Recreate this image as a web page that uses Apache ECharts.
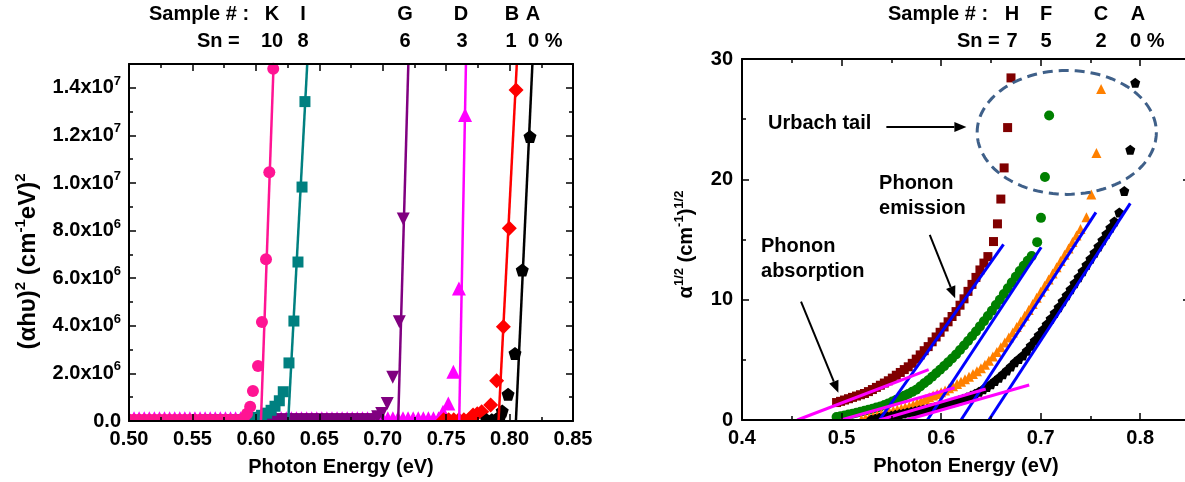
<!DOCTYPE html>
<html><head><meta charset="utf-8">
<script src="https://cdn.jsdelivr.net/npm/echarts@6.0.0/dist/echarts.min.js"></script>
<style>html,body{margin:0;padding:0;background:#fff}#c{width:1185px;height:482px}</style>
</head><body><div id="c"></div>
<script>
// ---------------- Left panel: (alpha h nu)^2 vs photon energy ----------------
const leftSamples = ['K','I','G','D','B','A'];
const leftSn = ['10','8','6','3','1'];
// K (Sn 10%)
const kE = [0.500,0.504,0.508,0.512,0.516,0.520,0.524,0.528,0.532,0.536,0.540,0.544,0.548,0.552,0.556,0.560,0.564,0.568,0.572,0.576,0.580,0.584,0.588,0.5905,0.5930,0.5955,0.5977,0.6017,0.6048,0.6080,0.6106,0.6137];
const kY = [5e4,5e4,5e4,5e4,5e4,5e4,5e4,5e4,5e4,5e4,5e4,5e4,5e4,5e4,5e4,5e4,5e4,5e4,5e4,5e4,5e4,5e4,5e4,1.2e5,3.0e5,6.0e5,1.26e6,2.31e6,4.16e6,6.80e6,10.45e6,14.80e6];
// I (Sn 8%)
const iE = [0.560,0.564,0.568,0.572,0.576,0.580,0.584,0.588,0.592,0.596,0.6007,0.6045,0.6085,0.6120,0.6151,0.6185,0.6216,0.6261,0.6300,0.6332,0.6364,0.6387];
const iY = [5e4,5e4,5e4,5e4,5e4,5e4,5e4,5e4,5e4,5e4,1.5e5,2.4e5,3.3e5,4.5e5,6.2e5,8.5e5,1.23e6,2.44e6,4.20e6,6.68e6,9.83e6,13.42e6];
// G (Sn 6%)
const gE = [0.600,0.604,0.608,0.612,0.616,0.620,0.624,0.628,0.632,0.636,0.640,0.644,0.648,0.652,0.656,0.660,0.664,0.668,0.672,0.676,0.680,0.684,0.688,0.692,0.6960,0.6992,0.7036,0.7079,0.7131,0.7162];
const gY = [5e4,5e4,5e4,5e4,5e4,5e4,5e4,5e4,5e4,5e4,5e4,5e4,5e4,5e4,5e4,5e4,5e4,5e4,5e4,5e4,5e4,5e4,5e4,5e4,1.8e5,3.2e5,7.4e5,1.84e6,4.17e6,8.49e6];
// D (Sn 3%)
const dE = [0.500,0.504,0.508,0.512,0.516,0.520,0.524,0.528,0.532,0.536,0.540,0.544,0.548,0.552,0.556,0.560,0.564,0.568,0.572,0.576,0.580,0.584,0.588,0.592,0.596,0.600,0.604,0.608,0.612,0.616,0.620,0.624,0.628,0.632,0.636,0.640,0.644,0.648,0.652,0.656,0.660,0.664,0.668,0.672,0.676,0.680,0.684,0.688,0.692,0.696,0.700,0.704,0.708,0.712,0.716,0.720,0.724,0.728,0.732,0.736,0.740,0.744,0.7475,0.7517,0.7557,0.7601,0.7649];
const dY = [1.2e5,1.2e5,1.2e5,1.2e5,1.2e5,1.2e5,1.2e5,1.2e5,1.2e5,1.2e5,1.2e5,1.2e5,1.2e5,1.2e5,1.2e5,1.2e5,1.2e5,1.2e5,1.2e5,1.2e5,1.2e5,1.2e5,1.2e5,1.2e5,1.2e5,1.2e5,1.2e5,1.2e5,1.2e5,1.2e5,1.2e5,1.2e5,1.2e5,1.2e5,1.2e5,1.2e5,1.2e5,1.2e5,1.2e5,1.2e5,1.2e5,1.2e5,1.2e5,1.2e5,1.2e5,1.2e5,1.2e5,1.2e5,1.2e5,1.2e5,1.2e5,1.2e5,1.2e5,1.2e5,1.2e5,1.2e5,1.2e5,1.2e5,1.2e5,1.2e5,1.2e5,1.2e5,3.9e5,7.4e5,2.07e6,5.57e6,12.86e6];
// B (Sn 1%)
const bE = [0.748,0.752,0.756,0.760,0.764,0.768,0.7712,0.7745,0.7780,0.7851,0.7898,0.7951,0.7998,0.8051];
const bY = [5e4,5e4,5e4,5e4,5e4,5e4,2.5e5,3.0e5,3.9e5,6.7e5,1.69e6,3.96e6,8.10e6,13.91e6];
// A (Sn 0%)
const aE = [0.782,0.786,0.789,0.7925,0.7942,0.7988,0.8043,0.8100,0.8161];
const aY = [5e4,5e4,5e4,2.0e5,4.2e5,1.12e6,2.84e6,6.34e6,11.95e6];
// linear fits (energy at y = 0 and at y = 1.5e7)
const fitYLeft = [0, 1.5e7];
const kFitE = [0.6040, 0.6140];
const iFitE = [0.6255, 0.6405];
const gFitE = [0.7122, 0.7202];
const dFitE = [0.7603, 0.7656];
const bFitE = [0.7913, 0.8057];
const aFitE = [0.8050, 0.8180];

// ---------------- Right panel: alpha^(1/2) vs photon energy ----------------
const rightSamples = ['H','F','C','A'];
const rightSn = ['7','5','2'];
const hE = [0.495,0.499,0.503,0.507,0.511,0.515,0.519,0.523,0.527,0.531,0.535,0.539,0.543,0.547,0.551,0.555,0.559,0.563,0.567,0.571,0.575,0.579,0.583,0.587,0.591,0.595,0.599,0.603,0.607,0.611,0.615,0.619,0.623,0.627,0.631,0.635,0.639,0.643,0.647,0.6526,0.6566,0.6600,0.6633,0.6668,0.6702];
const hV = [1.45,1.55,1.66,1.77,1.88,1.99,2.10,2.20,2.36,2.53,2.71,2.89,3.07,3.26,3.48,3.72,3.95,4.19,4.42,4.71,5.06,5.41,5.76,6.10,6.50,6.90,7.29,7.73,8.16,8.60,9.01,9.54,10.07,10.69,11.27,11.85,12.47,13.04,13.58,14.83,16.30,18.36,20.95,24.30,28.43];
const fE = [0.495,0.499,0.503,0.507,0.511,0.515,0.519,0.523,0.527,0.531,0.535,0.539,0.543,0.547,0.551,0.555,0.559,0.563,0.567,0.571,0.575,0.579,0.583,0.587,0.591,0.595,0.599,0.603,0.607,0.611,0.615,0.619,0.623,0.627,0.631,0.635,0.639,0.643,0.647,0.651,0.655,0.659,0.663,0.667,0.671,0.675,0.679,0.683,0.687,0.691,0.6965,0.7003,0.7043,0.7085];
const fV = [0.25,0.31,0.38,0.45,0.52,0.60,0.68,0.77,0.85,0.94,1.03,1.12,1.24,1.38,1.53,1.69,1.85,2.01,2.17,2.34,2.52,2.78,3.05,3.31,3.60,3.88,4.18,4.48,4.79,5.11,5.45,5.81,6.19,6.57,6.96,7.36,7.78,8.20,8.64,9.08,9.55,10.00,10.47,10.94,11.42,11.90,12.38,12.82,13.24,13.62,14.78,16.80,20.19,25.30];
const cE = [0.520,0.524,0.528,0.532,0.536,0.540,0.544,0.548,0.552,0.556,0.560,0.564,0.568,0.572,0.576,0.580,0.584,0.588,0.592,0.596,0.600,0.604,0.608,0.612,0.616,0.620,0.624,0.628,0.632,0.636,0.640,0.644,0.648,0.652,0.656,0.660,0.664,0.668,0.672,0.676,0.680,0.684,0.688,0.692,0.696,0.700,0.704,0.708,0.712,0.716,0.720,0.724,0.728,0.732,0.736,0.740,0.7460,0.7509,0.7560,0.7607];
const cV = [0.05,0.14,0.23,0.32,0.41,0.50,0.60,0.69,0.78,0.87,0.96,1.05,1.14,1.27,1.42,1.58,1.75,1.90,2.03,2.16,2.30,2.46,2.63,2.81,2.99,3.18,3.39,3.60,3.82,4.05,4.30,4.60,4.93,5.28,5.65,6.05,6.45,6.86,7.28,7.72,8.18,8.66,9.15,9.65,10.15,10.65,11.16,11.67,12.18,12.70,13.22,13.74,14.26,14.80,15.34,15.88,16.85,18.75,22.18,27.50];
const arE = [0.530,0.534,0.538,0.542,0.546,0.550,0.554,0.558,0.562,0.566,0.570,0.574,0.578,0.582,0.586,0.590,0.594,0.598,0.602,0.606,0.610,0.614,0.618,0.622,0.626,0.630,0.634,0.638,0.642,0.646,0.650,0.654,0.658,0.662,0.666,0.670,0.674,0.678,0.682,0.686,0.690,0.694,0.698,0.702,0.706,0.710,0.714,0.718,0.722,0.726,0.730,0.734,0.738,0.742,0.746,0.750,0.754,0.758,0.762,0.766,0.770,0.774,0.7790,0.7840,0.7900,0.7950];
const arV = [0.05,0.11,0.18,0.24,0.30,0.36,0.43,0.49,0.55,0.62,0.68,0.74,0.81,0.87,0.93,1.00,1.08,1.16,1.25,1.34,1.43,1.53,1.64,1.76,1.89,2.03,2.18,2.35,2.55,2.75,2.98,3.24,3.51,3.80,4.11,4.44,4.79,5.07,5.35,5.75,6.17,6.60,7.04,7.49,7.95,8.42,8.90,9.38,9.87,10.36,10.86,11.36,11.86,12.37,12.88,13.39,13.90,14.42,14.94,15.46,15.98,16.50,17.25,19.03,22.46,28.03];
// phonon emission fits (blue) and phonon absorption fits (magenta): [E0,E1],[V0,V1]
const hEmE = [0.538, 0.6627], hEmV = [0, 14.6];
const fEmE = [0.5862, 0.7005], fEmV = [0, 14.36];
const cEmE = [0.620, 0.7555], cEmV = [0, 17.25];
const aEmE = [0.648, 0.790], aEmV = [0, 18.0];
const hAbE = [0.4555, 0.5875], hAbV = [0, 4.18];
const fAbE = [0.4995, 0.6135], fAbV = [0, 2.68];
const cAbE = [0.538, 0.6448], cAbV = [0, 2.58];
const aAbE = [0.565, 0.6885], aAbV = [0, 2.91];

// ---------------- helpers ----------------
const FONT = '"Liberation Sans", Arial, Helvetica, sans-serif';
const zip = (xs, ys) => xs.map((x, i) => [x, ys[i]]);
const PENT = 'path://M0,-1L0.951,-0.309L0.588,0.809L-0.588,0.809L-0.951,-0.309Z';
const SUP = {fontFamily: FONT, fontWeight: 'bold', fontSize: 13, color: '#000', verticalAlign: 'top', lineHeight: 13};
const SUPL = {fontFamily: FONT, fontWeight: 'bold', fontSize: 15, color: '#000', verticalAlign: 'top', lineHeight: 15};
const BIG = {fontFamily: FONT, fontWeight: 'bold', fontSize: 20, color: '#000', lineHeight: 26};
const LBL = {show: true, fontFamily: FONT, fontWeight: 'bold', fontSize: 20, color: '#000'};

function axis(o) {
  return Object.assign({
    type: 'value', z: 10, nameMoveOverlap: false,
    axisLine: {show: true, onZero: false, lineStyle: {color: '#000', width: 2}},
    axisTick: {show: true, inside: true, length: 7, lineStyle: {color: '#000', width: 1.5}},
    minorTick: {show: true, splitNumber: 2, length: 4, lineStyle: {color: '#000', width: 1.5}},
    splitLine: {show: false}, minorSplitLine: {show: false},
    axisLabel: {show: false}
  }, o);
}
function sci(v) {
  if (v === 0) return '{b|0.0}';
  const e = Math.floor(Math.log10(v) + 1e-9);
  const m = v / Math.pow(10, e);
  return '{b|' + m.toFixed(1) + 'x10}{s|' + e + '}';
}
function sc(xi, data, symbol, size, color, extra) {
  return Object.assign({type: 'scatter', xAxisIndex: xi, yAxisIndex: xi, data, symbol, symbolSize: size,
    itemStyle: {color, opacity: 1}, silent: true, animation: false, z: 2}, extra || {});
}
function ln(xi, xs, ys, color, width) {
  return {type: 'line', xAxisIndex: xi, yAxisIndex: xi, data: zip(xs, ys), symbol: 'none', showSymbol: false,
    lineStyle: {color, width}, silent: true, animation: false, z: 3};
}

const option = {
  animation: false,
  backgroundColor: '#fff',
  grid: [
    {left: 129, top: 64, width: 444, height: 357, containLabel: false, outerBoundsMode: 'none'},
    {left: 742, top: 59, width: 448, height: 361, containLabel: false, outerBoundsMode: 'none'}
  ],
  xAxis: [
    axis({gridIndex: 0, position: 'bottom', min: 0.5, max: 0.85, interval: 0.05,
      axisLabel: Object.assign({}, LBL, {margin: 8, formatter: v => v.toFixed(2)}),
      name: 'Photon Energy (eV)', nameLocation: 'middle', nameGap: 36,
      nameTextStyle: {fontFamily: FONT, fontWeight: 'bold', fontSize: 20, color: '#000', padding: [0, 20, 0, 0]}}),
    axis({gridIndex: 0, position: 'top', min: 0.5, max: 0.85, interval: 0.05}),
    axis({gridIndex: 1, position: 'bottom', min: 0.4, max: 0.85, interval: 0.1,
      axisLabel: Object.assign({}, LBL, {margin: 8, showMaxLabel: false, formatter: v => v.toFixed(1)}),
      name: 'Photon Energy (eV)', nameLocation: 'middle', nameGap: 36,
      nameTextStyle: {fontFamily: FONT, fontWeight: 'bold', fontSize: 20, color: '#000'}}),
    axis({gridIndex: 1, position: 'top', min: 0.4, max: 0.85, interval: 0.1})
  ],
  yAxis: [
    axis({gridIndex: 0, position: 'left', min: 0, max: 1.5e7, interval: 2e6,
      axisLabel: Object.assign({}, LBL, {margin: 8, showMaxLabel: false, formatter: sci, rich: {b: BIG, s: SUP}}),
      name: '(αhυ){s|2} (cm{s|-1}eV){s|2}', nameLocation: 'middle', nameGap: 86,
      nameTextStyle: {fontFamily: FONT, fontWeight: 'bold', fontSize: 24, color: '#000', lineHeight: 30,
        padding: [0, 38, 0, 0], rich: {s: SUPL}}}),
    axis({gridIndex: 0, position: 'right', min: 0, max: 1.5e7, interval: 2e6}),
    axis({gridIndex: 1, position: 'left', min: 0, max: 30, interval: 10,
      axisLabel: Object.assign({}, LBL, {margin: 9}),
      name: 'α{s|1/2} (cm{s|-1}){s|1/2}', nameLocation: 'middle', nameGap: 43,
      nameTextStyle: {fontFamily: FONT, fontWeight: 'bold', fontSize: 20, color: '#000', lineHeight: 26,
        padding: [0, 10, 0, 0], rich: {s: SUP}}}),
    axis({gridIndex: 1, position: 'right', min: 0, max: 30, interval: 10})
  ],
  series: [
    // left markers (drawing order: D, G, I, K, B, A)
    sc(0, zip(dE, dY), 'triangle', 14, '#FF00FF'),
    sc(0, zip(gE, gY), 'triangle', 13, '#800080', {symbolRotate: 180}),
    sc(0, zip(iE, iY), 'rect', 11, '#008080'),
    sc(0, zip(kE, kY), 'circle', 12, '#FF1493'),
    sc(0, zip(bE, bY), 'diamond', 15, '#FF0000'),
    sc(0, zip(aE, aY), PENT, 13, '#000000'),
    // left fits
    ln(0, kFitE, fitYLeft, '#FF1493', 2.5),
    ln(0, iFitE, fitYLeft, '#008080', 2.5),
    ln(0, gFitE, fitYLeft, '#800080', 2.5),
    ln(0, dFitE, fitYLeft, '#FF00FF', 2.5),
    ln(0, bFitE, fitYLeft, '#FF0000', 2.5),
    ln(0, aFitE, fitYLeft, '#000000', 2.5),
    // right markers
    sc(2, zip(hE, hV), 'rect', 9, '#800000'),
    sc(2, zip(fE, fV), 'circle', 10, '#008000'),
    sc(2, zip(cE, cV), 'triangle', 10, '#FF8000'),
    sc(2, zip(arE, arV), PENT, 10, '#000000'),
    // right fits
    ln(2, hEmE, hEmV, '#0000FF', 3),
    ln(2, fEmE, fEmV, '#0000FF', 3),
    ln(2, cEmE, cEmV, '#0000FF', 3),
    ln(2, aEmE, aEmV, '#0000FF', 3),
    ln(2, hAbE, hAbV, '#FF00FF', 3),
    ln(2, fAbE, fAbV, '#FF00FF', 3),
    ln(2, cAbE, cAbV, '#FF00FF', 3),
    ln(2, aAbE, aAbV, '#FF00FF', 3)
  ]
};

const chart = echarts.init(document.getElementById('c'), null, {renderer: 'canvas', width: 1185, height: 482});
chart.setOption(option);

// ---------------- annotations ----------------
const TF = 'bold 20px ' + FONT;
function T(text, x, y, align) {
  return {type: 'text', x, y, z: 20, silent: true,
    style: {text, font: TF, fill: '#000', align: align || 'center', verticalAlign: 'middle',
      textAlign: align || 'center', textVerticalAlign: 'middle'}};
}
const P = (e, v) => chart.convertToPixel({xAxisIndex: 2, yAxisIndex: 2}, [e, v]);
function arrow(a, b) {
  const p0 = P(a[0], a[1]), p1 = P(b[0], b[1]);
  const dx = p1[0] - p0[0], dy = p1[1] - p0[1], L = Math.hypot(dx, dy);
  const ux = dx / L, uy = dy / L, hl = 12, hw = 5;
  const bx = p1[0] - ux * hl, by = p1[1] - uy * hl;
  return [
    {type: 'line', z: 20, silent: true, shape: {x1: p0[0], y1: p0[1], x2: bx, y2: by}, style: {stroke: '#000', lineWidth: 2}},
    {type: 'polygon', z: 20, silent: true, shape: {points: [[p1[0], p1[1]], [bx - uy * hw, by + ux * hw], [bx + uy * hw, by - ux * hw]]}, style: {fill: '#000'}}
  ];
}
function PT(text, e, v) { const p = P(e, v); return T(text, p[0], p[1], 'left'); }

const g = [];
// headers
const lx = [272, 303, 405, 461, 512, 533];
g.push(T('Sample # :', 149, 14, 'left'));
leftSamples.forEach((s, i) => g.push(T(s, lx[i], 14)));
g.push(T('Sn =', 197, 41, 'left'));
const lsx = [272, 303, 405, 462, 511];
leftSn.forEach((s, i) => g.push(T(s, lsx[i], 41)));
g.push(T('0 %', 528, 41, 'left'));
const rx = [1012, 1046, 1101, 1138];
g.push(T('Sample # :', 888, 14, 'left'));
rightSamples.forEach((s, i) => g.push(T(s, rx[i], 14)));
g.push(T('Sn =', 957, 41, 'left'));
rightSn.forEach((s, i) => g.push(T(s, rx[i], 41)));
g.push(T('0 %', 1130, 41, 'left'));
// masks that clip markers below the x axes
g.push({type: 'rect', z: 5, silent: true, shape: {x: 123, y: 422, width: 451, height: 6}, style: {fill: '#fff'}});
g.push({type: 'rect', z: 5, silent: true, shape: {x: 121, y: 400, width: 7, height: 28}, style: {fill: '#fff'}});
g.push({type: 'rect', z: 5, silent: true, shape: {x: 743, y: 421, width: 442, height: 7}, style: {fill: '#fff'}});
// Urbach tail ellipse
const c0 = P(0.7262, 23.9), cxr = P(0.7262 + 0.09, 23.9), cyr = P(0.7262, 23.9 + 5.15);
const erx = cxr[0] - c0[0], ery = c0[1] - cyr[1];
const pts = [];
for (let k = 0; k < 120; k++) { const t = k / 120 * Math.PI * 2; pts.push([c0[0] + erx * Math.cos(t), c0[1] + ery * Math.sin(t)]); }
g.push({type: 'polygon', z: 20, silent: true, shape: {points: pts}, style: {fill: 'none', stroke: '#3F6089', lineWidth: 3, lineDash: [10, 6]}});
// texts + arrows
g.push(PT('Urbach tail', 0.4261, 24.6));
g.push(...arrow([0.545, 24.35], [0.6254, 24.35]));
g.push(PT('Phonon', 0.5377, 19.63));
g.push(PT('emission', 0.5377, 17.55));
g.push(...arrow([0.5886, 15.39], [0.6141, 10.12]));
g.push(PT('Phonon', 0.4191, 14.39));
g.push(PT('absorption', 0.4191, 12.31));
g.push(...arrow([0.4593, 9.84], [0.4968, 2.27]));

chart.setOption({graphic: {elements: g}});
</script></body></html>
